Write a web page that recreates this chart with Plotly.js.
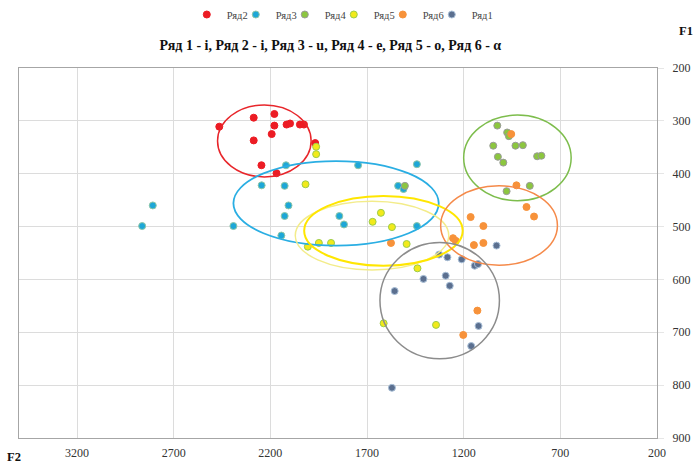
<!DOCTYPE html>
<html>
<head>
<meta charset="utf-8">
<script src="https://cdn.plot.ly/plotly-3.0.1.min.js"></script>
<style>html,body{margin:0;padding:0;background:#fff;}#chart{width:697px;height:466px;}</style>
</head>
<body>
<div id="chart"></div>
<script>
// Series names
const seriesNames = ["Ряд2", "Ряд3", "Ряд4", "Ряд5", "Ряд6", "Ряд1"];

// Ряд2 (i)
const r2F2 = [2464, 2286, 2179, 2179, 2116, 2098, 2047, 2026, 2193, 2286, 1968, 2246, 2168];
const r2F1 = [311, 294, 287, 309, 307, 305, 307, 307, 325, 337, 342, 384, 399];
// Ряд3 (u)
const r3F2 = [2808, 2863, 2391, 2245, 2126, 2106, 2126, 2143, 1843, 1819, 2119, 1539, 1511, 1442, 1746, 1442];
const r3F1 = [460, 499, 499, 422, 423, 460, 480, 517, 480, 496, 384, 423, 429, 499, 384, 382];
// Ряд4 (e)
const r4F2 = [1026, 975, 966, 1047, 932, 894, 1023, 995, 820, 798, 858, 978, 1504];
const r4F1 = [309, 322, 329, 347, 347, 346, 368, 379, 367, 366, 423, 433, 423];
// Ряд5 (o)
const r5F2 = [1963, 1963, 2018, 1628, 1671, 1571, 1495, 2006, 1949, 1886, 1439, 1614, 1343];
const r5F1 = [349, 363, 420, 474, 491, 501, 533, 538, 531, 531, 579, 683, 686];
// Ряд6 (α)
const r6F2 = [1164, 1098, 1255, 1241, 1147, 1098, 875, 836, 1129, 1202, 1576, 954, 927];
const r6F1 = [482, 499, 522, 527, 535, 531, 463, 481, 659, 705, 531, 325, 422];
// Ряд1 (i)
const r1F2 = [1327, 1284, 1210, 1143, 1126, 1408, 1293, 1272, 1557, 1123, 1161, 1571, 1030];
const r1F1 = [553, 558, 562, 574, 571, 599, 593, 612, 622, 688, 726, 805, 536];

// Ellipses: center F2, center F1, radius F2, radius F1
const ellCx = [2231, 1860, 922, 1674, 1615, 1017, 1324];
const ellCy = [338, 456, 370, 517, 508, 498, 640];
const ellRx = [242, 531, 278, 397, 410, 302, 309];
const ellRy = [68, 80, 81, 65, 66, 75, 110];
const ellColors = ["#e8262b", "#2aaee3", "#7dbd4c", "#f3ec8a", "#ffe600", "#f58a4a", "#8c8c8c"];
const ellWidths = [1.5, 1.8, 1.5, 1.5, 2, 1.5, 1.5];

const seriesX = [r2F2, r3F2, r4F2, r5F2, r6F2, r1F2];
const seriesY = [r2F1, r3F1, r4F1, r5F1, r6F1, r1F1];
const colors = ["#ec1c24", "#1ea7d7", "#8cc63f", "#f2ea1a", "#f7923a", "#5b6f8f"];
const outlines = ["#ec1c24", "#8fc7a8", "#9a9a9a", "#9ccc4a", "#f7923a", "#a9c0d8"];

const traces = seriesNames.map((n, i) => ({
  type: "scatter", mode: "markers", name: n,
  x: seriesX[i], y: seriesY[i],
  marker: {color: colors[i], size: 7, line: {color: outlines[i], width: 1}}
}));
// spacer legend entry (no drawable data) so the last name is not clipped
traces.push({type: "scatter", mode: "markers", name: " ", x: [null], y: [null],
             marker: {color: "rgba(0,0,0,0)", size: 1, line: {width: 0}}, showlegend: true});

const shapes = ellCx.map((c, i) => ({
  type: "circle", xref: "x", yref: "y", layer: "above",
  x0: c - ellRx[i], x1: c + ellRx[i],
  y0: ellCy[i] - ellRy[i], y1: ellCy[i] + ellRy[i],
  line: {color: ellColors[i], width: ellWidths[i]}
}));

const fam = "Liberation Serif, Times New Roman, serif";

const layout = {
  width: 697, height: 466,
  margin: {l: 19, r: 40, t: 68, b: 28},
  paper_bgcolor: "#fff", plot_bgcolor: "#fff",
  font: {family: fam, size: 11, color: "#222"},
  showlegend: true,
  legend: {orientation: "h", x: 0.263, xanchor: "left", y: 1, yref: "container", yanchor: "top",
           font: {family: fam, size: 10.5, color: "#444"}, itemwidth: 30,
           entrywidth: 4, entrywidthmode: "pixels", itemclick: false},
  title: {text: "<b>Ряд 1 - i, Ряд 2 - i, Ряд 3 - u, Ряд 4 - e, Ряд 5 - o, Ряд 6 - α</b>",
          x: 0.474, xanchor: "center", y: 0.903, yanchor: "middle",
          font: {family: fam, size: 14, color: "#111"}},
  xaxis: {range: [3500, 200], tick0: 200, dtick: 500, showgrid: true, gridcolor: "#dcdcdc",
          zeroline: false, showline: true, linecolor: "#a6a6a6", linewidth: 1, mirror: true,
          ticks: "", ticklabelstandoff: 4, tickfont: {family: fam, size: 12, color: "#333"}},
  yaxis: {range: [900, 200], tick0: 200, dtick: 100, side: "right", showgrid: true, gridcolor: "#dcdcdc",
          zeroline: false, showline: true, linecolor: "#a6a6a6", linewidth: 1, mirror: true,
          ticks: "outside", ticklen: 6, tickcolor: "#e6e6e6", ticklabelstandoff: 6,
          tickfont: {family: fam, size: 12, color: "#333"}},
  shapes: shapes,
  annotations: [
    {text: "<b>F2</b>", xref: "paper", yref: "paper", x: -0.008, y: -0.05, xanchor: "center", yanchor: "middle",
     showarrow: false, font: {family: fam, size: 12.5, color: "#111"}},
    {text: "<b>F1</b>", xref: "paper", yref: "paper", x: 1.045, y: 1.1, xanchor: "center", yanchor: "middle",
     showarrow: false, font: {family: fam, size: 12.5, color: "#111"}}
  ]
};

Plotly.newPlot("chart", traces, layout, {displayModeBar: false, staticPlot: true});
</script>
</body>
</html>
